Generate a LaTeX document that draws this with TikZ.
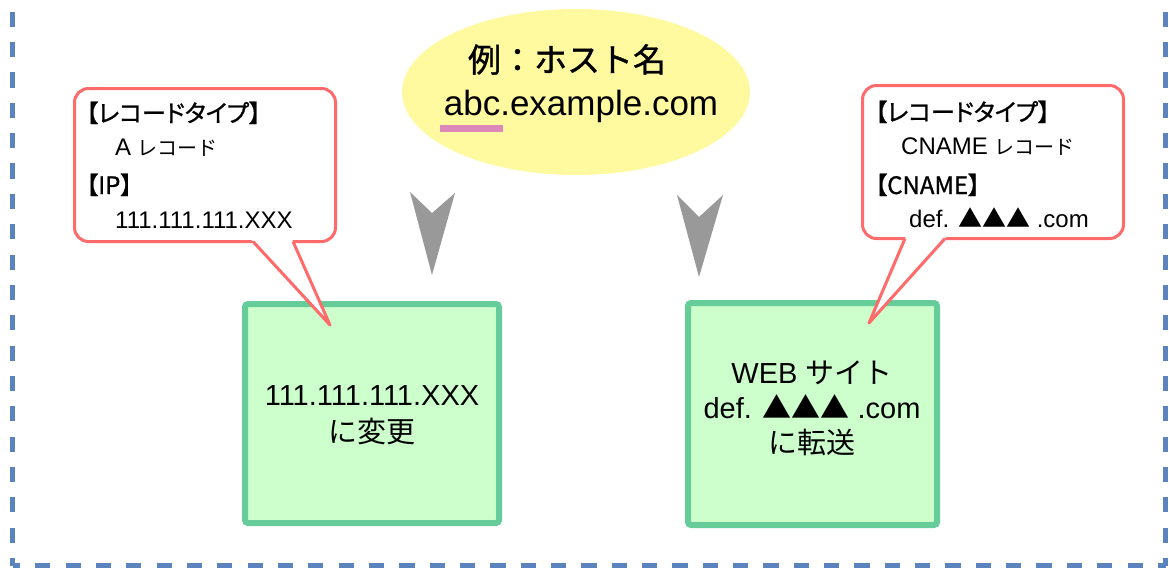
\documentclass[tikz,border=0pt]{standalone}
\usepackage{fontspec}
\setmainfont{Liberation Sans}
\newfontfamily\jp{Noto Sans CJK JP}
\newfontfamily\jptitle[FakeBold=1]{Noto Sans CJK JP}
\newfontfamily\jpmed[FakeBold=1,RawFeature=+palt]{Noto Sans CJK JP}
\newcommand\jpsmall[1]{{\fontsize{20}{24}\selectfont\jp #1}}
\usetikzlibrary{shapes.geometric,calc}
\definecolor{framedash}{HTML}{5B84BF}
\definecolor{ovalfill}{HTML}{FFF9A0}
\definecolor{underpink}{HTML}{DD88BB}
\definecolor{chevgray}{HTML}{999999}
\definecolor{calloutred}{HTML}{FF6B6B}
\definecolor{boxline}{HTML}{66CC99}
\definecolor{boxfill}{HTML}{CCFFCC}

\begin{document}
\begin{tikzpicture}[x=1pt, y=-1pt,
    every node/.style={inner sep=0pt, text=black},
    framedashes/.style={framedash, line width=5pt,
                        dash pattern=on 15.17pt off 15.17pt, dash phase=7.58pt},
    hostoval/.style={ellipse, fill=ovalfill, minimum width=348pt, minimum height=166pt},
    resultbox/.style={draw=boxline, fill=boxfill, line width=6pt, rounded corners=3pt},
    calloutbox/.style={draw=calloutred, fill=white, line width=3pt, rounded corners=14pt,
                       minimum width=261pt, minimum height=153pt},
    tailline/.style={draw=calloutred, line width=3pt, line join=round},
    headtext/.style={anchor=base west, font=\fontsize{24}{28}\selectfont\jpmed},
    bodytext/.style={anchor=base west, font=\fontsize{24}{28}\selectfont},
    boxtext/.style={anchor=base, font=\fontsize{29}{32}\selectfont}]

  \useasboundingbox (0,0) rectangle (1169,568);
  \clip (0,0) rectangle (1169,568);

  %% 外枠（点線）
  \draw[framedashes] (12.5,565.5) -- (1165.5,565.5);
  \draw[framedashes] (12.5,565.5) -- (12.5,-20);
  \draw[framedashes] (1165.5,565.5) -- (1165.5,-20);

  %% ホスト名の楕円
  \node[hostoval] (host) at (576,92) {};
  \node[anchor=base, font=\fontsize{33}{38}\selectfont\jptitle] (hostlabel) at (567,72) {例：ホスト名};
  \node[anchor=base, font=\fontsize{35}{38}\selectfont] (hostname) at (581,115) {abc.example.com};
  \draw[underpink, line width=7pt] (440,128) -- (503,128);

  %% 下向きの矢印
  \fill[chevgray] (410,192) -- (432,213) -- (455,193) -- (432,275) -- cycle;
  \fill[chevgray] (677,195) -- (699,217) -- (723,195) -- (699,277) -- cycle;

  %% 結果の箱
  \node[resultbox, minimum width=254pt, minimum height=219pt] (abox) at (372,413.5) {};
  \node[boxtext] (aboxip) at (372,405) {111.111.111.XXX};
  \node[boxtext] (aboxto) at (372,442) {\jp に変更};

  \node[resultbox, minimum width=249pt, minimum height=222pt] (cbox) at (812.5,414) {};
  \node[boxtext] (cboxweb) at (812,383) {WEB {\jp サイト}};
  \node[boxtext] (cboxdom) at (812,418) {def. {\jp ▲▲▲} .com};
  \node[boxtext] (cboxto) at (812,453) {\jp に転送};

  %% 吹き出し（A レコード）
  \node[calloutbox] (acall) at (205,165) {};
  \coordinate (atip) at (330,325);
  \coordinate (aleft) at (253,241.5);
  \coordinate (aright) at (293,241.5);
  \fill[white] ($(atip)!1.15!(aleft)$) -- (atip) -- ($(atip)!1.15!(aright)$) -- cycle;
  \draw[tailline] (aleft) -- (atip) -- (aright);
  \node[headtext] (ahead) at (86,122) {【レコードタイプ】};
  \node[bodytext] (atype) at (115,155) {A \jpsmall{レコード}};
  \node[headtext] (aiphead) at (86,194) {【IP】};
  \node[bodytext] (aip) at (115,228) {111.111.111.XXX};

  %% 吹き出し（CNAME レコード）
  \node[calloutbox] (ccall) at (993,162) {};
  \coordinate (ctip) at (869,323);
  \coordinate (cleft) at (905,238.5);
  \coordinate (cright) at (945,238.5);
  \fill[white] ($(ctip)!1.15!(cleft)$) -- (ctip) -- ($(ctip)!1.15!(cright)$) -- cycle;
  \draw[tailline] (cleft) -- (ctip) -- (cright);
  \node[headtext] (chead) at (875,121) {【レコードタイプ】};
  \node[bodytext] (ctype) at (901,154) {CNAME \jpsmall{レコード}};
  \node[headtext] (cnhead) at (875,194) {【CNAME】};
  \node[bodytext] (cname) at (909,227) {def. {\jp ▲▲▲} .com};

\end{tikzpicture}
\end{document}
